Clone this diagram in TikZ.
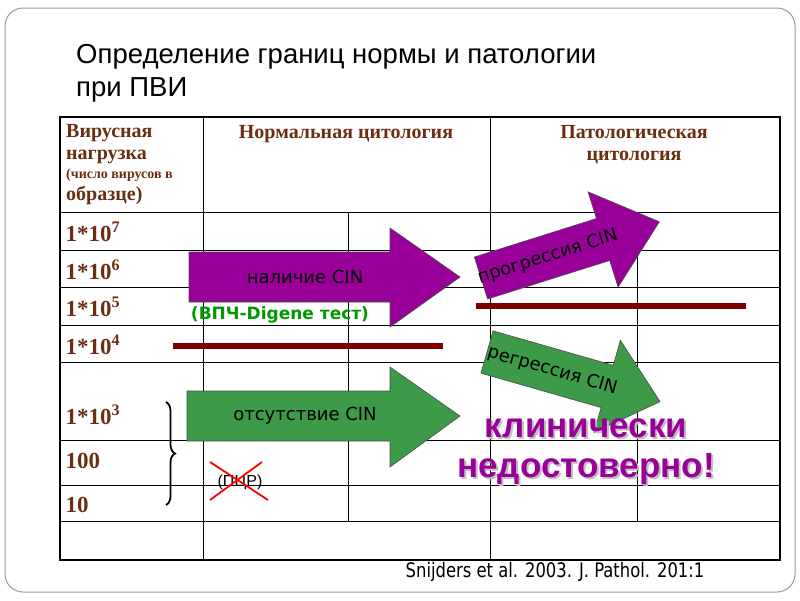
\documentclass[tikz,border=0pt]{standalone}
\usepackage{fontspec}
\setmainfont{Liberation Sans}
\newfontfamily\serifb{Liberation Serif}
\newfontfamily\dvs{DejaVu Sans}
\usetikzlibrary{decorations.pathreplacing}
\definecolor{brn}{HTML}{6B2E13}
\definecolor{purp}{HTML}{990099}
\definecolor{grn}{HTML}{3C9A48}
\definecolor{drd}{HTML}{800000}
\tikzset{
 hdr/.style={text=brn,font=\serifb\bfseries\fontsize{20}{22}\selectfont,align=left,anchor=north west},
 val/.style={text=brn,font=\serifb\bfseries\fontsize{23}{24}\selectfont,anchor=west},
 arr/.style={draw=black!70,line width=0.6pt},
 albl/.style={font=\dvs\fontsize{18}{19}\selectfont},
 bar/.style={drd,line width=6pt},
 grid/.style={line width=0.8pt}
}
\begin{document}
\begin{tikzpicture}[x=1pt,y=-1pt]
\useasboundingbox (0,0) rectangle (800,600);
\draw[black!40,rounded corners=18pt,line width=1pt] (5,8) rectangle (795,592);
\node[anchor=north west,align=left,font=\fontsize{27.5}{33}\selectfont,inner sep=0pt] (title) at (76,44) {Определение границ нормы и патологии\\при ПВИ};
% table grid
\draw[grid] (203,117)--(203,560) (490,117)--(490,560) (348,212)--(348,521) (637,212)--(637,521);
\foreach \y in {212,250,287,325,362,440,485,521} \draw[grid] (60,\y)--(780,\y);
\draw[line width=2.2pt] (60,117) rectangle (780,560);
% header
\node[hdr,inner sep=2pt] (h1) at (64,122) {Вирусная\\нагрузка\\[-3pt]\fontsize{14}{16}\selectfont (число вирусов в\\образце)};
\node[hdr,anchor=north] (h2) at (346,122) {Нормальная цитология};
\node[hdr,anchor=north,align=center] (h3) at (634,122) {Патологическая\\цитология};
\node[val] (v7) at (62,232) {1*10\textsuperscript{7}};
\node[val] (v6) at (62,270) {1*10\textsuperscript{6}};
\node[val] (v5) at (62,307) {1*10\textsuperscript{5}};
\node[val] (v4) at (62,345) {1*10\textsuperscript{4}};
\node[val] (v3) at (62,415) {1*10\textsuperscript{3}};
\node[val] (v2) at (62,461) {100};
\node[val] (v1) at (62,505) {10};
% bars
\draw[bar] (173,346)--(443,346);
\draw[bar] (476,306)--(746,306);
% arrows
\draw[arr,fill=purp] (189,252)--(390,252)--(390,228)--(460,277)--(390,327)--(390,302)--(189,302)--cycle;
\node[albl] (a1) at (305,277) {наличие CIN};
\draw[arr,fill=grn] (187,391)--(390,391)--(390,367)--(460,416)--(390,467)--(390,441)--(187,441)--cycle;
\node[albl] (a2) at (305,416) {отсутствие CIN};
\begin{scope}[shift={(481,278)},rotate=17.5]
\draw[arr,fill=purp] (0,-22)--(128,-22)--(128,-50)--(187,0)--(128,50)--(128,22)--(0,22)--cycle;
\node[albl,rotate=17.5] (a3) at (70,0) {прогрессия CIN};
\end{scope}
\begin{scope}[shift={(487,352)},rotate=-16]
\draw[arr,fill=grn] (0,-22)--(125,-22)--(125,-48)--(180,0)--(125,48)--(125,22)--(0,22)--cycle;
\node[albl,rotate=-16] (a4) at (68,0) {регрессия CIN};
\end{scope}
\node[font=\dvs\bfseries\fontsize{17}{18}\selectfont,text=green!60!black] (digene) at (280,315) {(ВПЧ-Digene тест)};
% brace
\draw[decorate,decoration={brace,amplitude=9pt},line width=1.8pt] (166,402)--(166,505);
% PCR
\node[font=\fontsize{16}{17}\selectfont] (pcr) at (240,482) {(ПЦР)};
\draw[red,line width=1.8pt] (210,462)--(268,500) (210,500)--(262,462);
% clinical
\node[font=\bfseries\fontsize{35}{40}\selectfont,text=black!25,align=center] at (588,454) {клинически\\недостоверно!};
\node[font=\bfseries\fontsize{35}{40}\selectfont,text=purp,align=center] (clin) at (586,452) {клинически\\недостоверно!};
\node[font=\dvs\fontsize{20}{21}\selectfont,xscale=0.82] (ref) at (555,572) {Snijders et al. 2003. J. Pathol. 201:1};
\end{tikzpicture}
\end{document}
